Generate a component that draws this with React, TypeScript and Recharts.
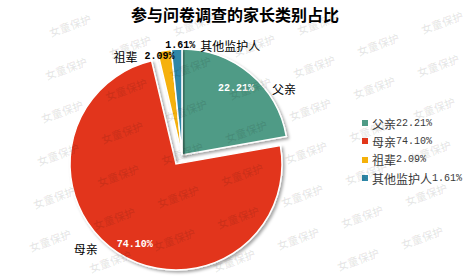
import { PieChart, Pie, Cell, Legend } from 'recharts';

// 家长类别
const names = ['父亲', '母亲', '祖辈', '其他监护人'];
const shares = [22.21, 74.1, 2.09, 1.61];
const colors = ['#4F9B86', '#E2361A', '#F5B10A', '#2D87A7'];

const data = names.map((name, i) => ({ name, value: shares[i] }));

// label tweaks (polar, relative to each slice)
const labelRadius = [0.81, 0.85, 0.95, 1.03];
const labelAngleShift = [1, 6, 3.4, -2];
const nameSide = ['right', 'left', 'left', 'right'];
const nameGap = [18, 19, 7, 5];
const pctColor = ['#fff', '#fff', '#000', '#000'];

const RAD = Math.PI / 180;
const pctFont = '"Liberation Mono", monospace';
const cjkFont = '"Noto Sans CJK SC", sans-serif';

const fmt = (v: number) => `${v.toFixed(2)}%`;

function renderLabel(props: any) {
  const { cx, cy, midAngle, outerRadius, index } = props;
  const a = (midAngle + labelAngleShift[index]) * RAD;
  const r = outerRadius * labelRadius[index];
  const x = cx + r * Math.cos(a);
  const y = cy - r * Math.sin(a);
  const pct = fmt(shares[index]);
  const half = (pct.length * 6) / 2;
  const right = nameSide[index] === 'right';
  const nx = right ? x + half + nameGap[index] : x - half - nameGap[index];
  return (
    <g>
      <text x={x} y={y} textAnchor="middle" dominantBaseline="central" fill={pctColor[index]}
        style={{ fontFamily: pctFont, fontSize: 10, fontWeight: 700 }}>{pct}</text>
      <text x={nx} y={y + (index === 1 ? 4 : 0)} textAnchor={right ? 'start' : 'end'} dominantBaseline="central"
        fill="#000" style={{ fontFamily: cjkFont, fontSize: 12 }}>{names[index]}</text>
    </g>
  );
}

const labelExcept = (skip: (i: number) => boolean) => (props: any) =>
  skip(props.index) ? null : renderLabel(props);

function LegendBox() {
  return (
    <div>
      {names.map((n, i) => (
        <div key={n} style={{ display: 'flex', alignItems: 'center', height: 18.3, color: '#3a3a3a' }}>
          <span style={{ width: 6, height: 6, background: colors[i], marginRight: 4, display: 'inline-block' }} />
          <span style={{ fontFamily: cjkFont, fontSize: 12 }}>{n}</span>
          <span style={{ fontFamily: pctFont, fontSize: 10 }}>{fmt(shares[i])}</span>
        </div>
      ))}
    </div>
  );
}

// faint repeated watermark, only whole copies inside the frame
function Watermarks() {
  const items: { x: number; y: number }[] = [];
  for (let a = -8; a <= 8; a++) {
    for (let b = -8; b <= 8; b++) {
      const x = 362 + a * 64 + b * 60;
      const y = 216 - a * 22 + b * 21;
      if (x > 25 && x < 445 && y > 14 && y < 264) items.push({ x, y });
    }
  }
  return (
    <svg width={470} height={278} style={{ position: 'absolute', left: 0, top: 0, pointerEvents: 'none' }}>
      {items.map((p, i) => (
        <text key={i} x={p.x} y={p.y} textAnchor="middle" dominantBaseline="central"
          transform={`rotate(-20 ${p.x} ${p.y})`} fill="rgba(0,0,0,0.09)"
          style={{ fontFamily: cjkFont, fontSize: 11, fontWeight: 700 }}>女童保护</text>
      ))}
    </svg>
  );
}

export default function App() {
  return (
    <div style={{ position: 'absolute', left: 0, top: 0, width: 470, height: 278, background: '#fff' }}>
      <div style={{ position: 'absolute', left: 0, top: 4, width: 470, textAlign: 'center',
        fontFamily: cjkFont, fontSize: 16, fontWeight: 700, color: '#000', lineHeight: '20px' }}>
        参与问卷调查的家长类别占比
      </div>
      <PieChart width={470} height={278} style={{ position: 'absolute', left: 0, top: 0 }}>
        <defs>
          <filter id="sliceShadow" x="-20%" y="-20%" width="140%" height="140%">
            <feDropShadow dx="2" dy="2" stdDeviation="1.6" floodColor="#000" floodOpacity="0.35" />
          </filter>
        </defs>
        <Pie data={data} dataKey="value" nameKey="name" cx={171} cy={159} outerRadius={106}
          startAngle={90} endAngle={-270} isAnimationActive={false} labelLine={false}
          label={labelExcept((i) => i !== 1)} stroke="#fff" strokeWidth={1.5}>
          {data.map((d, i) => (
            <Cell key={d.name} fill={i === 1 ? colors[i] : 'none'} stroke={i === 1 ? '#fff' : 'none'}
              filter={i === 1 ? 'url(#sliceShadow)' : undefined} />
          ))}
        </Pie>
        <Pie data={data} dataKey="value" nameKey="name" cx={177} cy={150} outerRadius={106}
          startAngle={90} endAngle={-270} isAnimationActive={false} labelLine={false}
          label={labelExcept((i) => i === 1)} stroke="#fff" strokeWidth={1.5}>
          {data.map((d, i) => (
            <Cell key={d.name} fill={i === 1 ? 'none' : colors[i]} stroke={i === 1 ? 'none' : '#fff'}
              filter={i === 1 ? undefined : 'url(#sliceShadow)'} />
          ))}
        </Pie>
        <Legend content={<LegendBox />} wrapperStyle={{ left: 362, top: 114, width: 108 }} />
      </PieChart>
      <Watermarks />
    </div>
  );
}
